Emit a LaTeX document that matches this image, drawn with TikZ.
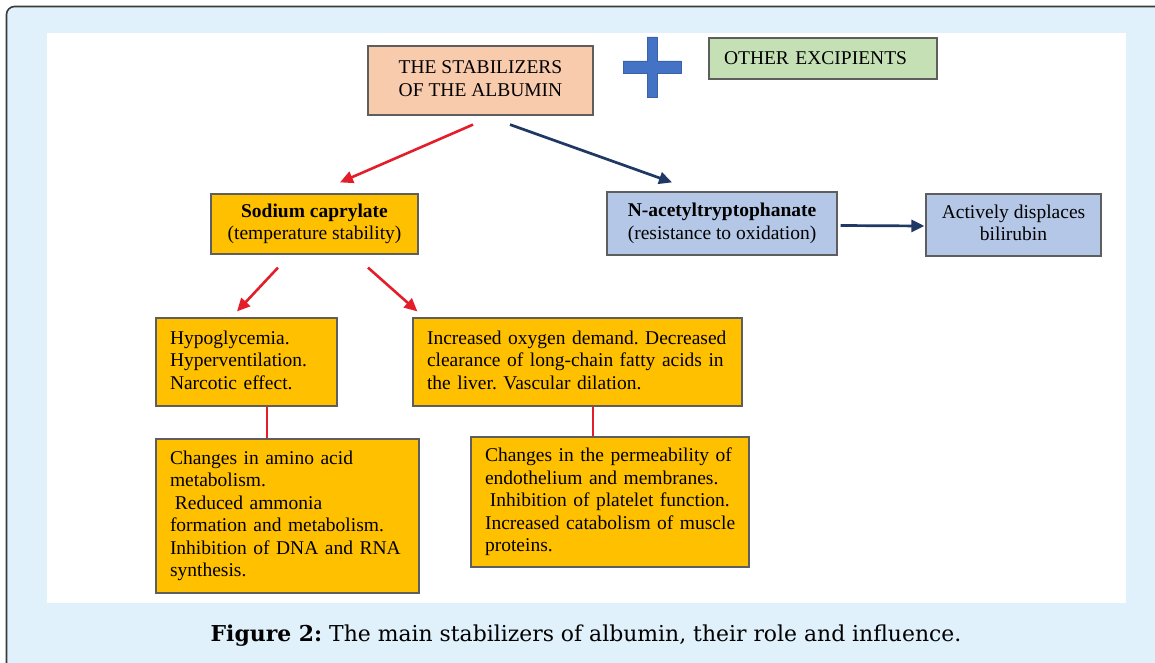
\documentclass[tikz,border=0pt]{standalone}
\usepackage{fontspec}
\setmainfont{Liberation Serif}
\newfontfamily\capfont{DejaVu Serif}
\usetikzlibrary{arrows.meta}
\frenchspacing
\newcommand\leftlines[1]{\begin{tabular}{@{}l@{}}#1\end{tabular}}
\newcommand\midlines[2]{\raisebox{#1}{\begin{tabular}{@{}c@{}}#2\end{tabular}}}
\definecolor{bgblue}{HTML}{E0F1FB}
\definecolor{framecol}{HTML}{3A3A3A}
\definecolor{boxline}{HTML}{5E5E5E}
\definecolor{peach}{HTML}{F8CBAD}
\definecolor{greenbox}{HTML}{C5E0B4}
\definecolor{yellowbox}{HTML}{FFC000}
\definecolor{bluebox}{HTML}{B4C7E7}
\definecolor{plusblue}{HTML}{4472C4}
\definecolor{plusedge}{HTML}{3A62A8}
\definecolor{arrred}{HTML}{E31E2A}
\definecolor{arrnavy}{HTML}{1F3864}
\tikzset{
  box/.style={draw=boxline, line width=1.2pt, inner sep=0pt,
    font=\fontsize{19.5}{22.5}\selectfont},
  cbox/.style={box, align=center},
  lbox/.style={box, align=left, inner xsep=14pt},
  redarrow/.style={draw=arrred, line width=2.6pt, -{Triangle[length=13pt,width=12pt]}},
  navyarrow/.style={draw=arrnavy, line width=2.7pt, -{Triangle[length=13pt,width=12pt]}},
  redline/.style={draw=arrred, line width=2.8pt}
}
\begin{document}
\begin{tikzpicture}[x=1pt,y=-1pt]
\useasboundingbox (0,0) rectangle (1155,663);
\begin{scope}
  \clip (0,0) rectangle (1155,663);
  \fill[white] (0,0) rectangle (1155,663);
  \draw[draw=framecol, fill=bgblue, line width=1.6pt, rounded corners=8pt] (6.5,6.5) rectangle (1190,700);
  \fill[white] (47,33) rectangle (1126,603);
\end{scope}

% plus sign
\draw[fill=plusblue, draw=plusedge, line width=0.8pt]
  (647,37) -- (657,37) -- (657,61) -- (681,61) -- (681,73) -- (657,73) -- (657,97)
  -- (647,97) -- (647,73) -- (623,73) -- (623,61) -- (647,61) -- cycle;

% nodes
\node[cbox, fill=peach, minimum width=225pt, minimum height=69pt] (stab) at (480.5,80.5)
  {\midlines{4pt}{THE STABILIZERS\\OF THE ALBUMIN}};
\node[lbox, fill=greenbox, text width=198pt, minimum height=41pt, inner xsep=15pt] (other) at (823,58.5)
  {OTHER EXCIPIENTS};
\node[cbox, fill=yellowbox, minimum width=207pt, minimum height=60pt] (sod) at (314.5,224)
  {\midlines{-3pt}{\textbf{Sodium caprylate}\\(temperature stability)}};
\node[cbox, fill=bluebox, minimum width=230pt, minimum height=63pt] (nac) at (722,223.5)
  {\midlines{-3pt}{\textbf{N-acetyltryptophanate}\\(resistance to oxidation)}};
\node[cbox, fill=bluebox, minimum width=175pt, minimum height=62pt] (act) at (1013.5,225)
  {\midlines{-2pt}{Actively displaces\\bilirubin}};
\node[lbox, fill=yellowbox, text width=153pt, minimum height=88pt] (hypo) at (246.5,362)
  {\leftlines{Hypoglycemia.\\Hyperventilation.\\Narcotic effect.}};
\node[lbox, fill=yellowbox, text width=301pt, minimum height=88pt] (incr) at (577.5,362)
  {\leftlines{Increased oxygen demand. Decreased\\clearance of long-chain fatty acids in\\the liver. Vascular dilation.}};
\node[lbox, fill=yellowbox, text width=235pt, minimum height=154pt] (amino) at (287.5,516)
  {\leftlines{Changes in amino acid\\metabolism.\\\hspace*{0.25em}Reduced ammonia\\formation and metabolism.\\Inhibition of DNA and RNA\\synthesis.}};
\node[lbox, fill=yellowbox, text width=250pt, minimum height=130pt] (perm) at (610,502)
  {\leftlines{Changes in the permeability of\\endothelium and membranes.\\\hspace*{0.25em}Inhibition of platelet function.\\Increased catabolism of muscle\\proteins.}};

% connectors
\draw[redarrow] ([shift={(-7.5,9)}]stab.south) -- ([shift={(25.5,-11)}]sod.north);
\draw[navyarrow] ([shift={(29.5,9)}]stab.south) -- ([shift={(-50,-9)}]nac.north);
\draw[navyarrow] ([shift={(3,2)}]nac.east) -- ([shift={(-1,1)}]act.west);
\draw[redarrow] ([shift={(-36.5,13)}]sod.south) -- ([shift={(-9.5,-6)}]hypo.north);
\draw[redarrow] ([shift={(53.5,13)}]sod.south) -- ([shift={(5,-6)}]incr.north west);
\draw[redline] ([shift={(20.5,0)}]hypo.south) -- ([shift={(20.5,0)}]hypo.south |- amino.north);
\draw[redline] ([shift={(15.5,0)}]incr.south) -- ([shift={(15.5,0)}]incr.south |- perm.north);

% caption
\node[anchor=base, inner sep=0pt, font=\capfont\fontsize{21.9}{26}\selectfont] (cap) at (586,641)
  {\textbf{Figure 2:} The main stabilizers of albumin, their role and influence.};
\end{tikzpicture}
\end{document}
